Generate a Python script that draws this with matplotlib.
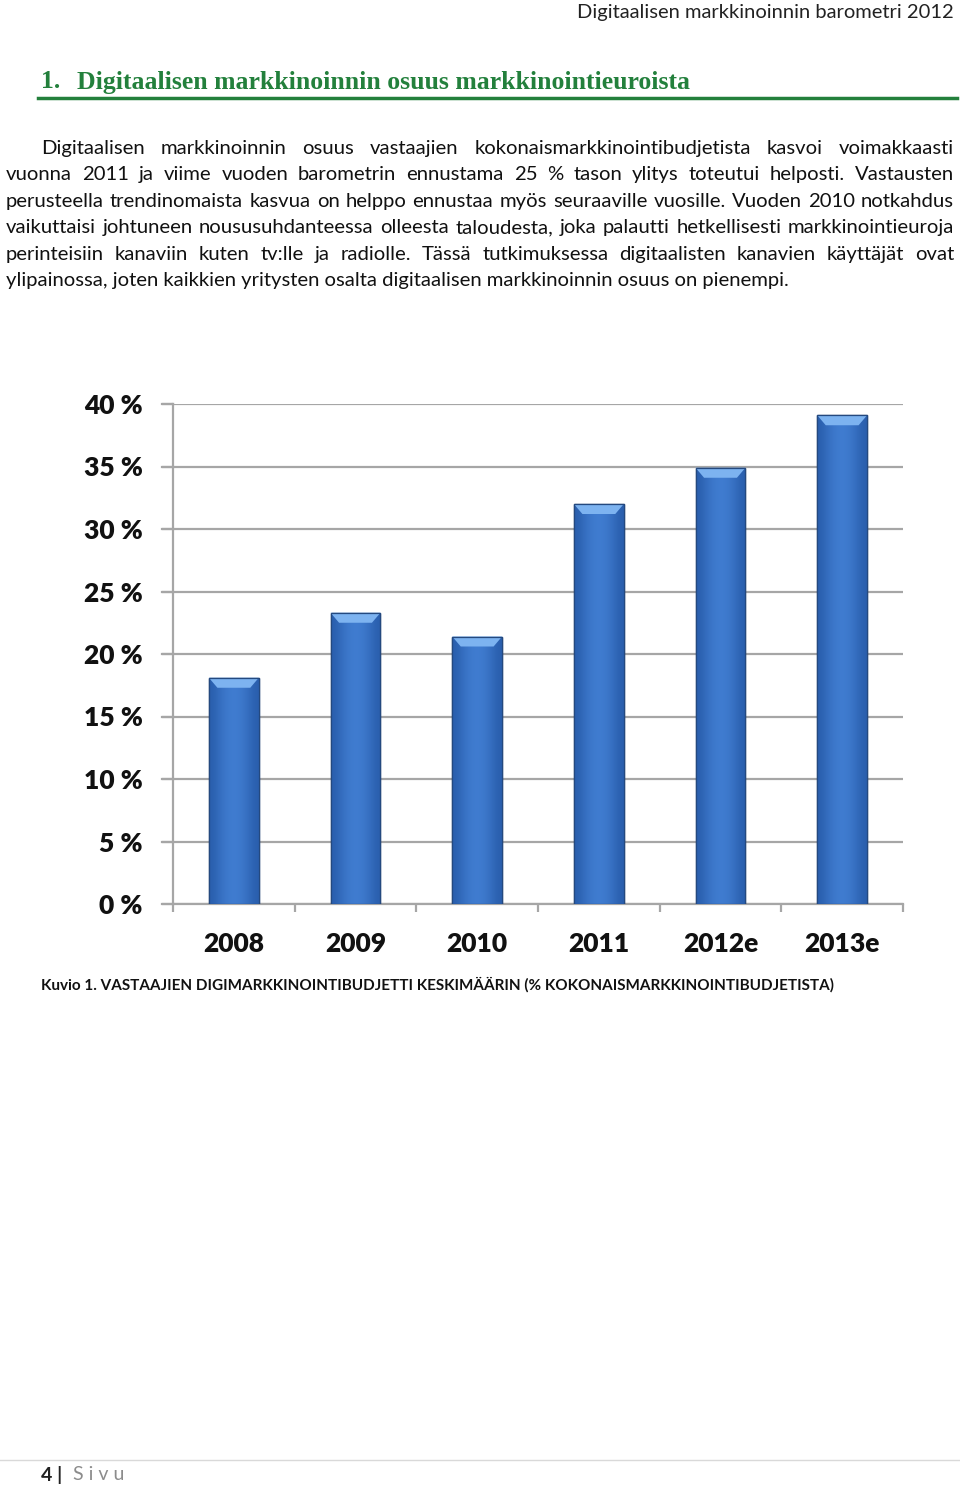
import numpy as np
import matplotlib
matplotlib.use("Agg")
from matplotlib import pyplot as plt
from matplotlib.patches import Polygon

plt.rcParams["font.family"] = ["Lato", "DejaVu Sans"]

# %% data
years = ["2008", "2009", "2010", "2011", "2012e", "2013e"]
share = [18.1, 23.3, 21.4, 32.0, 34.9, 39.1]
yticks = [0, 5, 10, 15, 20, 25, 30, 35, 40]
ytick_labels = [f"{v} %" for v in yticks]

header = "Digitaalisen markkinoinnin barometri 2012"
title_num = "1."
title = "Digitaalisen markkinoinnin osuus markkinointieuroista"
body_lines = [
    "Digitaalisen markkinoinnin osuus vastaajien kokonaismarkkinointibudjetista kasvoi voimakkaasti",
    "vuonna 2011 ja viime vuoden barometrin ennustama 25 % tason ylitys toteutui helposti. Vastausten",
    "perusteella trendinomaista kasvua on helppo ennustaa myös seuraaville vuosille. Vuoden 2010 notkahdus",
    "vaikuttaisi johtuneen noususuhdanteessa olleesta taloudesta, joka palautti hetkellisesti markkinointieuroja",
    "perinteisiin kanaviin kuten tv:lle ja radiolle. Tässä tutkimuksessa digitaalisten kanavien käyttäjät ovat",
    "ylipainossa, joten kaikkien yritysten osalta digitaalisen markkinoinnin osuus on pienempi.",
]
caption = "Kuvio 1. VASTAAJIEN DIGIMARKKINOINTIBUDJETTI KESKIMÄÄRIN (% KOKONAISMARKKINOINTIBUDJETISTA)"

W, H = 960, 1488
fig = plt.figure(figsize=(W / 100, H / 100), dpi=100)
renderer = fig.canvas.get_renderer()


def px(x, y):
    return x / W, 1 - y / H


def text_width(t):
    return t.get_window_extent(renderer).width


# %% page text
fig.text(*px(954, 18), header, ha="right", va="baseline", fontsize=14.5, color="#222222")
green = "#23803c"
fig.text(*px(41, 82), title_num, ha="left", va="center", fontsize=18.5,
         family="Liberation Serif", weight="bold", color=green)
fig.text(*px(77, 82), title, ha="left", va="center", fontsize=18.5,
         family="Liberation Serif", weight="bold", color=green)
fig.add_artist(plt.Line2D([38 / W, 957 / W], [1 - 98 / H] * 2, color=green, lw=2.5))

body_size = 14.6
for i, line in enumerate(body_lines):
    y = 154 + i * 26.4
    x0 = 41 if i == 0 else 6
    x1 = 954
    words = line.split(" ")
    if i == len(body_lines) - 1:
        fig.text(*px(x0, y), line, ha="left", va="baseline", fontsize=body_size, color="#111111")
        continue
    objs = [fig.text(0, 0, w, ha="left", va="baseline", fontsize=body_size, color="#111111")
            for w in words]
    widths = [text_width(o) for o in objs]
    gap = (x1 - x0 - sum(widths)) / (len(words) - 1)
    x = x0
    for o, wd in zip(objs, widths):
        o.set_position(px(x, y))
        x += wd + gap

# %% chart
ax = fig.add_axes([173 / W, 1 - 904 / H, 730 / W, 500 / H])
xpos = np.arange(len(years))
bar_w = 0.41
bars = ax.bar(xpos, share, width=bar_w, color="#3d7ccf", edgecolor="#1d3d6e", linewidth=1.0, zorder=3)

grad = np.array([[0.0, 0.35, 0.6, 0.7, 0.6, 0.35, 0.0]])
cmap = matplotlib.colors.LinearSegmentedColormap.from_list("b", ["#2a5fae", "#4a8ae0"])
for b in bars:
    x0, w, h = b.get_x(), b.get_width(), b.get_height()
    im = ax.imshow(grad, extent=[x0, x0 + w, 0, h], aspect="auto", cmap=cmap,
                   vmin=0, vmax=1, zorder=3.5, interpolation="bicubic")
    im.set_clip_path(b)
    bev = 0.8
    top = Polygon([[x0, h], [x0 + w, h], [x0 + w - 0.07, h - bev], [x0 + 0.07, h - bev]],
                  closed=True, facecolor="#7db3f0", edgecolor="none", zorder=4)
    ax.add_patch(top)
    ax.add_patch(plt.Rectangle((x0, 0), w, h, fill=False, edgecolor="#24497f", lw=0.9, zorder=5))

ax.set_xlim(-0.5, len(years) - 0.5)
ax.set_ylim(0, 40)
ax.set_yticks(yticks)
ax.set_yticklabels(ytick_labels, fontsize=19, weight="heavy", color="#111111")
ax.yaxis.grid(True, color="#a6a6a6", lw=1.6, zorder=0)
ax.set_axisbelow(True)
for s in ["top", "right"]:
    ax.spines[s].set_visible(False)
for s in ["left", "bottom"]:
    ax.spines[s].set_color("#a6a6a6")
    ax.spines[s].set_linewidth(1.6)
ax.tick_params(axis="y", length=8, width=1.6, color="#a6a6a6", pad=14)

ax.set_xticks(np.arange(len(years) + 1) - 0.5)
ax.set_xticklabels([])
ax.set_xticks(xpos, minor=True)
ax.set_xticklabels(years, minor=True, fontsize=19, weight="heavy", color="#111111")
ax.tick_params(axis="x", which="major", length=6, width=1.6, color="#a6a6a6", direction="out")
ax.tick_params(axis="x", which="minor", length=0, pad=20)
# gridlines extend left over tick length
for yt in yticks:
    ax.plot([-0.5 - 11 / 121.7, -0.5], [yt, yt], color="#a6a6a6", lw=1.6, clip_on=False, zorder=0)

fig.text(*px(41, 985), caption, ha="left", va="center", fontsize=11.0, weight="bold", color="#111111")

# %% footer
fig.add_artist(plt.Line2D([0, 1], [1 - 1460 / H] * 2, color="#d9d9d9", lw=1))
fig.text(*px(41, 1475), "4 |", ha="left", va="center", fontsize=14, weight="bold", color="#222222")
fig.text(*px(73, 1475), "S i v u", ha="left", va="center", fontsize=14, color="#8c8c8c")

fig.savefig("out.png", dpi=100)
